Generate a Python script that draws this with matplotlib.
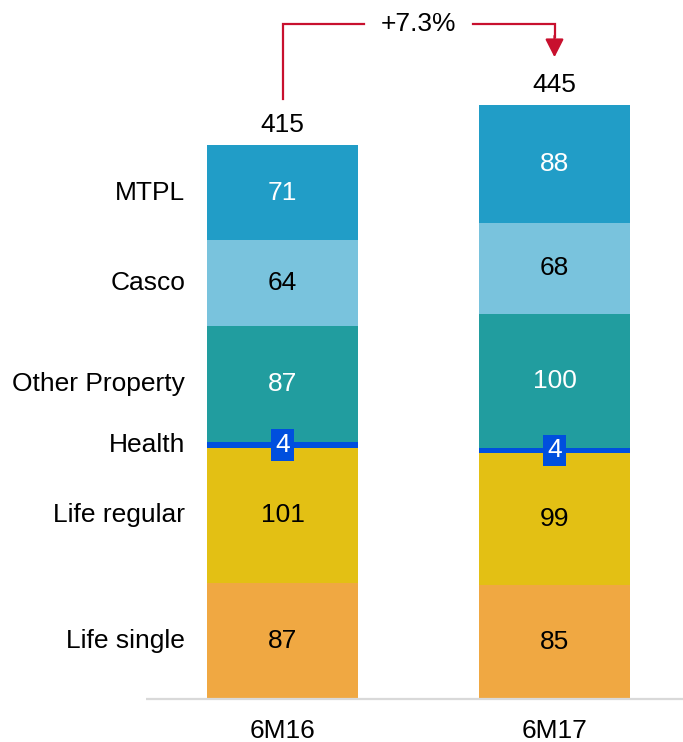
import matplotlib
matplotlib.use("Agg")
import matplotlib.pyplot as plt
import numpy as np

plt.rcParams['font.family'] = ['Liberation Sans', 'DejaVu Sans']

# data
periods = ["6M16", "6M17"]
segments = ["Life single", "Life regular", "Health", "Other Property", "Casco", "MTPL"]
values_6m16 = [87, 101, 4, 87, 64, 71]
values_6m17 = [85, 99, 4, 100, 68, 88]
totals = [415, 445]
growth_label = "+7.3%"

colors = ["#F0A842", "#E3C014", "#004FDE", "#219D9F", "#79C3DD", "#219DC7"]
text_colors = ["black", "black", "white", "white", "black", "white"]

# figure layout: 683x742 px
fig = plt.figure(figsize=(6.83, 7.42), dpi=100)
ax = fig.add_axes([0, 0, 1, 1])
px_per_x = 272.0
px_per_y = 1.337
x0_px, base_px = 282.5, 699.0
ax.set_xlim(-x0_px / px_per_x, (683 - x0_px) / px_per_x)
ax.set_ylim(-(742 - base_px) / px_per_y, base_px / px_per_y)
ax.axis("off")

def px_y(p):
    return (base_px - p) / px_per_y

def px_x(p):
    return (p - x0_px) / px_per_x

x = np.arange(len(periods))
bar_w = 151 / px_per_x
data = np.array([values_6m16, values_6m17])
bottoms = np.zeros(len(periods))
fs = 19

for i, seg in enumerate(segments):
    vals = data[:, i]
    ax.bar(x, vals, bottom=bottoms, width=bar_w, color=colors[i], linewidth=0)
    for j in range(len(periods)):
        yc = bottoms[j] + vals[j] / 2
        if seg == "Health":
            ax.text(x[j], yc, str(vals[j]), ha="center", va="center",
                    fontsize=fs, color="white",
                    bbox=dict(boxstyle="square,pad=0.14", fc=colors[i], ec="none"))
        else:
            ax.text(x[j], yc, str(vals[j]), ha="center", va="center",
                    fontsize=fs, color=text_colors[i])
    # category label next to first bar
    ax.text(px_x(185), bottoms[0] + vals[0] / 2, seg, ha="right", va="center",
            fontsize=fs, color="black")
    bottoms += vals

# totals on top
for j in range(len(periods)):
    ax.text(x[j], bottoms[j] + 15.5, str(totals[j]), ha="center", va="center",
            fontsize=fs, color="black")

# baseline
ax.plot([px_x(146), px_x(683)], [0, 0], color="#D9D9D9", lw=1.6,
        solid_capstyle="butt", clip_on=False)

# x labels
for j, p in enumerate(periods):
    ax.text(x[j], px_y(731), p, ha="center", va="center", fontsize=fs, color="black")

# growth arrow
red = "#C8102E"
y_top = max(bottoms) + 61
y_start = bottoms[0] + 35
x_mid = (x[0] + x[1]) / 2
gap = 0.2
ax.plot([x[0], x[0], x_mid - gap], [y_start, y_top, y_top], color=red, lw=1.6,
        solid_joinstyle="miter")
ax.plot([x_mid + gap, x[1], x[1]], [y_top, y_top, y_top - 10], color=red, lw=1.6,
        solid_joinstyle="miter")
ax.annotate("", xy=(x[1], bottoms[1] + 36), xytext=(x[1], y_top - 9),
            arrowprops=dict(arrowstyle="-|>,head_length=0.55,head_width=0.28",
                            mutation_scale=20, color=red, lw=1.6,
                            shrinkA=0, shrinkB=0))
ax.text(x_mid, y_top, growth_label, ha="center", va="center", fontsize=fs, color="black")

fig.savefig("out.png", dpi=100)
